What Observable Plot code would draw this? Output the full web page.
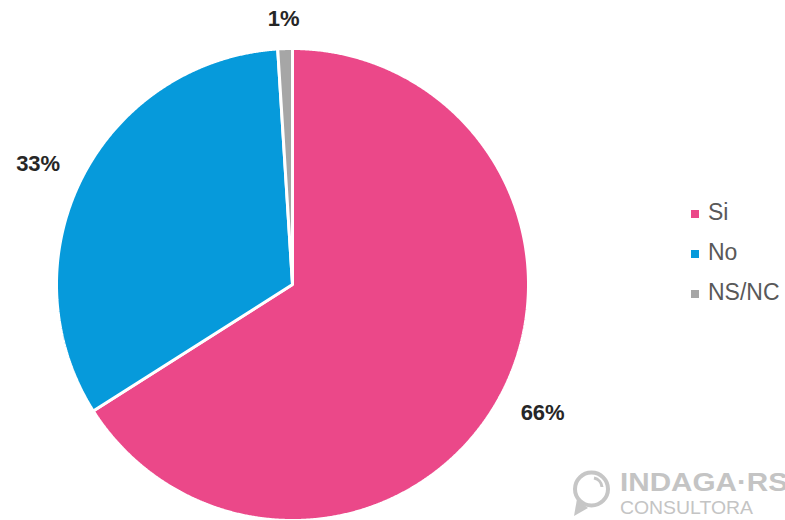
<!DOCTYPE html>
<html>
<head>
<meta charset="utf-8">
<script src="https://cdn.jsdelivr.net/npm/d3@7"></script>
<script src="https://cdn.jsdelivr.net/npm/@observablehq/plot@0.6"></script>
<style>
  html, body { margin: 0; padding: 0; background: #fff; }
  #wrap { position: relative; width: 785px; height: 520px; overflow: hidden; font-family: "Liberation Sans", Arial, sans-serif; }
  #chart { position: absolute; left: 0; top: 0; }
  #legend { position: absolute; left: 691px; top: 192px; }
  .row { height: 40.3px; display: flex; align-items: center; font-size: 23px; color: #595959; }
  .sw { width: 8px; height: 8px; margin-right: 9px; margin-top: 3px; }
  #logo { position: absolute; left: 0; top: 0; }
</style>
</head>
<body>
<div id="wrap">
  <div id="chart"></div>
  <div id="legend"></div>
  <svg id="logo" width="785" height="520">
    <g fill="none" stroke="#c6c6c6">
      <circle cx="591.5" cy="489" r="16.5" stroke-width="4"/>
      <path d="M 594 478 A 10 10 0 0 1 602 487" stroke-width="3"/>
    </g>
    <path d="M 574 516 L 577 499 L 588 508 Z" fill="#c6c6c6"/>
    <text x="620" y="491" font-family="Liberation Sans, Arial, sans-serif" font-weight="bold" font-size="25" fill="#c4c4c4" textLength="168" lengthAdjust="spacingAndGlyphs">INDAGA·RS</text>
    <text x="620" y="514" font-family="Liberation Sans, Arial, sans-serif" font-size="19" fill="#c4c4c4" textLength="133" lengthAdjust="spacingAndGlyphs">CONSULTORA</text>
  </svg>
</div>
<script>
const categories = ["Si", "No", "NS/NC"];
const values = [66, 33, 1];
const labels = ["66%", "33%", "1%"];
const colors = ["#EB4889", "#069ADB", "#A6A6A6"];

// layout (pixels)
const W = 785, H = 520, CX = 292, CY = 284, R = 236;

const arcs = d3.pie().sort(null).startAngle(0).endAngle(2 * Math.PI)(values);

// slice polygons in unit-radius data coordinates
const slices = [];
arcs.forEach((a, i) => {
  const cat = categories[i];
  slices.push({cat, x: 0, y: 0});
  const n = Math.max(2, Math.ceil((a.endAngle - a.startAngle) / (Math.PI / 720)));
  for (let k = 0; k <= n; k++) {
    const t = a.startAngle + (a.endAngle - a.startAngle) * k / n;
    slices.push({cat, x: Math.sin(t), y: Math.cos(t)});
  }
});

// labels placed outside each slice
const labelPts = arcs.map((a, i) => {
  const m = (a.startAngle + a.endAngle) / 2;
  const w = labels[i].length * 13 + 8, h = 8;
  const r = 1.11;
  return {
    text: labels[i],
    x: r * Math.sin(m) + Math.sin(m) * (w / 2) / R,
    y: r * Math.cos(m) + Math.cos(m) * (h / 2) / R
  };
});

const chart = Plot.plot({
  width: W,
  height: H,
  margin: 0,
  x: {domain: [-CX / R, (W - CX) / R], range: [0, W], axis: null},
  y: {domain: [-(H - CY) / R, CY / R], range: [H, 0], axis: null},
  color: {domain: categories, range: colors},
  style: {fontFamily: "Liberation Sans, Arial, sans-serif", background: "white"},
  marks: [
    Plot.line(slices, {x: "x", y: "y", z: "cat", fill: "cat", stroke: "white", strokeWidth: 3, curve: "linear-closed", strokeLinejoin: "miter"}),
    Plot.text(labelPts, {x: "x", y: "y", text: "text", fontSize: 22, fontWeight: "bold", fill: "#262626"})
  ]
});
document.getElementById("chart").appendChild(chart);

const legend = document.getElementById("legend");
categories.forEach((c, i) => {
  const row = document.createElement("div");
  row.className = "row";
  const sw = document.createElement("div");
  sw.className = "sw";
  sw.style.background = colors[i];
  const t = document.createElement("span");
  t.textContent = c;
  row.appendChild(sw);
  row.appendChild(t);
  legend.appendChild(row);
});
</script>
</body>
</html>
